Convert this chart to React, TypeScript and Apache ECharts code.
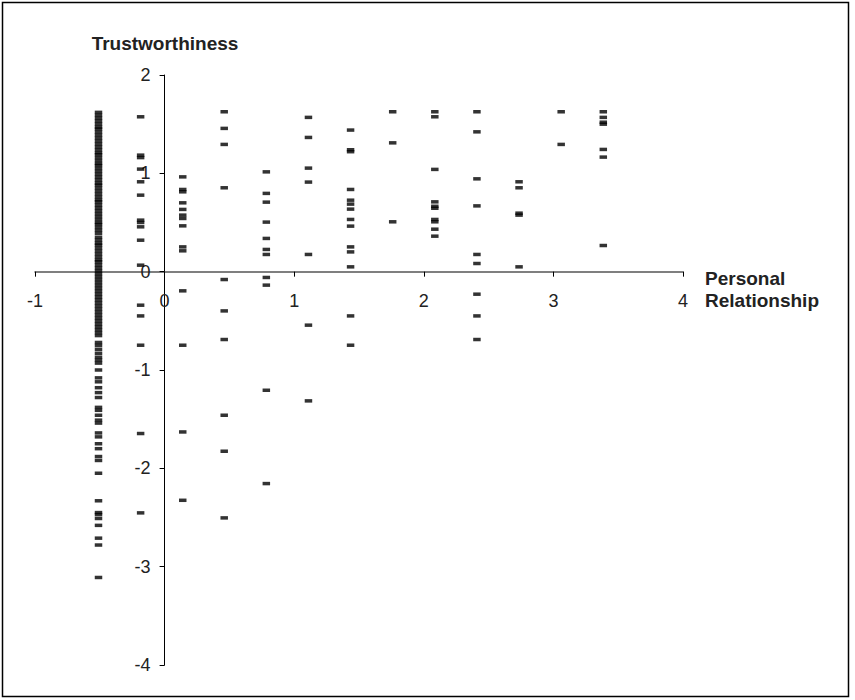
import React, { useEffect, useRef } from "react";
import * as echarts from "echarts";

// Column x positions (Personal Relationship)
const xCols = [-0.51, -0.185, 0.14, 0.46, 0.785, 1.11, 1.435, 1.76, 2.085, 2.41, 2.735, 3.06, 3.385];

// Trustworthiness values per column
const colA = [
  1.62, 1.59, 1.56, 1.53, 1.50, 1.47, 1.45, 1.42, 1.39, 1.36, 1.33, 1.30, 1.27, 1.24, 1.21, 1.19,
  1.16, 1.13, 1.10, 1.08, 1.05, 1.02, 0.99, 0.96, 0.93, 0.90, 0.88, 0.85, 0.82, 0.79, 0.76, 0.73,
  0.71, 0.68, 0.65, 0.62, 0.59, 0.56, 0.53, 0.50, 0.48, 0.45, 0.42, 0.39, 0.35, 0.32, 0.29, 0.27,
  0.24, 0.21, 0.18, 0.15, 0.12, 0.10, 0.07, 0.04, 0.01,
  -0.02, -0.05, -0.08, -0.11, -0.14, -0.17, -0.20, -0.23, -0.26, -0.29, -0.32, -0.35, -0.38,
  -0.41, -0.44, -0.47, -0.50, -0.53, -0.56, -0.59, -0.62, -0.65, -0.72, -0.75, -0.79, -0.83,
  -0.87, -0.90, -0.93, -1.00, -1.08, -1.12, -1.18, -1.23, -1.28, -1.38, -1.41, -1.46, -1.51,
  -1.54, -1.64, -1.68, -1.75, -1.80, -1.88, -1.92, -2.05, -2.33, -2.45, -2.47, -2.51, -2.58,
  -2.71, -2.78, -3.11,
];
const colB = [1.575, 1.185, 1.16, 1.043, 0.914, 0.778, 0.524, 0.5, 0.456, 0.32, 0.066, -0.341, -0.45, -0.748, -1.646, -2.453];
const colC = [0.964, 0.836, 0.812, 0.70, 0.633, 0.575, 0.541, 0.466, 0.252, 0.212, -0.195, -0.748, -1.63, -2.325];
const colD = [1.626, 1.457, 1.294, 0.853, -0.08, -0.399, -0.69, -1.46, -1.826, -2.504];
const colE = [1.015, 0.796, 0.707, 0.504, 0.338, 0.226, 0.175, -0.059, -0.137, -1.206, -2.155];
const colF = [1.569, 1.365, 1.053, 0.911, 0.175, -0.544, -1.314];
const colG = [1.44, 1.24, 1.22, 0.836, 0.727, 0.687, 0.636, 0.531, 0.463, 0.252, 0.201, 0.049, -0.45, -0.748];
const colH = [1.626, 1.31, 0.507];
const colI = [1.626, 1.575, 1.04, 0.71, 0.665, 0.645, 0.531, 0.507, 0.432, 0.361];
const colJ = [1.626, 1.422, 0.944, 0.669, 0.175, 0.083, -0.229, -0.45, -0.69];
const colK = [0.914, 0.853, 0.595, 0.575, 0.049];
const colL = [1.626, 1.294];
const colM = [1.626, 1.569, 1.52, 1.50, 1.243, 1.165, 0.266];

const columns = [colA, colB, colC, colD, colE, colF, colG, colH, colI, colJ, colK, colL, colM];

const xTicks = [-1, 0, 1, 2, 3, 4];
const yTicks = [-4, -3, -2, -1, 0, 1, 2];

const xName = "Personal\nRelationship";
const yName = "Trustworthiness";

const FONT = "'Liberation Sans', Arial, sans-serif";

const GRID = { left: 35, right: 172, top: 75, bottom: 35 };
const W = 855;
const H = 700;

export default function App() {
  const ref = useRef<HTMLDivElement>(null);
  useEffect(() => {
    if (!ref.current) return;
    const chart = echarts.init(ref.current, null, { renderer: "svg" });
    const data: number[][] = [];
    columns.forEach((ys, i) => ys.forEach((y) => data.push([xCols[i], y])));

    const xMin = xTicks[0];
    const xMax = xTicks[xTicks.length - 1];
    const yMin = yTicks[0];
    const yMax = yTicks[yTicks.length - 1];
    const plotW = W - GRID.left - GRID.right;
    const plotH = H - GRID.top - GRID.bottom;
    // distance of the zero lines from the grid edges, so labels follow the crossing axes
    const xAxisOffset = -((0 - yMin) / (yMax - yMin)) * plotH;
    const yAxisOffset = -((0 - xMin) / (xMax - xMin)) * plotW;

    chart.setOption({
      animation: false,
      backgroundColor: "#fff",
      grid: { ...GRID, containLabel: false },
      xAxis: {
        type: "value",
        min: xMin,
        max: xMax,
        interval: 1,
        position: "bottom",
        offset: xAxisOffset,
        axisLine: { onZero: false, lineStyle: { color: "#555", width: 1.5 } },
        axisTick: { show: true, length: 5, lineStyle: { color: "#000" } },
        axisLabel: { margin: 20, fontSize: 18, color: "#222", fontFamily: FONT },
        splitLine: { show: false },
      },
      yAxis: {
        type: "value",
        min: yMin,
        max: yMax,
        interval: 1,
        position: "left",
        offset: yAxisOffset,
        axisLine: { onZero: false, lineStyle: { color: "#000", width: 1 } },
        axisTick: { show: true, length: 5, lineStyle: { color: "#000" } },
        axisLabel: { margin: 14, fontSize: 18, color: "#222", fontFamily: FONT },
        splitLine: { show: false },
      },
      series: [
        {
          type: "scatter",
          data,
          symbol: "rect",
          symbolSize: [7.5, 3.5],
          itemStyle: { color: "#000" },
        },
      ],
      graphic: [
        {
          type: "rect",
          shape: { x: 2.5, y: 2.5, width: 846, height: 694 },
          style: { fill: "none", stroke: "#000", lineWidth: 1.5 },
          silent: true,
        },
        {
          type: "text",
          x: 165,
          y: 43,
          style: {
            text: yName,
            fontFamily: FONT,
            fontSize: 19,
            fontWeight: "bold",
            fill: "#222",
            textAlign: "center",
            textVerticalAlign: "middle",
          },
        },
        {
          type: "text",
          x: 705,
          y: 267,
          style: {
            text: xName,
            fontFamily: FONT,
            fontSize: 19,
            fontWeight: "bold",
            lineHeight: 22,
            fill: "#222",
            textAlign: "left",
            textVerticalAlign: "top",
          },
        },
      ],
    });
    return () => chart.dispose();
  }, []);
  return (
    <div
      ref={ref}
      style={{ position: "absolute", left: 0, top: 0, width: W, height: H }}
    />
  );
}
